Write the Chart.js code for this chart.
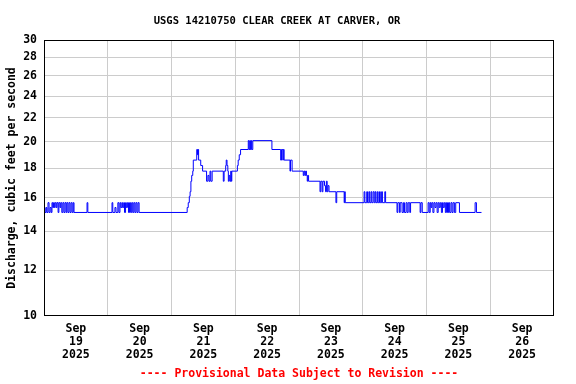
<!DOCTYPE html>
<html>
<head>
<meta charset="utf-8">
<script src="https://cdn.jsdelivr.net/npm/chart.js@4"></script>
<style>
html, body { margin: 0; padding: 0; background: #fff; }
</style>
</head>
<body>
<canvas id="hydro" width="576" height="384"></canvas>
<script>
// hours since Sep 19 2025 00:00, discharge in cfs (value holds until next point)
const flowSteps = [
	[0, 15.4], [0.4, 15.1], [0.8, 15.4], [1.1, 15.1], [1.5, 15.7], [1.9, 15.1], [2.3, 15.4], [2.7, 15.1],
	[3.0, 15.7], [3.3, 15.4], [3.6, 15.7], [3.9, 15.4], [4.2, 15.7], [4.6, 15.4], [4.9, 15.7], [5.3, 15.1],
	[5.6, 15.7], [6.0, 15.4], [6.3, 15.7], [6.7, 15.1], [7.1, 15.7], [7.5, 15.1], [7.9, 15.7], [8.3, 15.1],
	[8.6, 15.7], [9.0, 15.1], [9.4, 15.7], [9.8, 15.1], [10.2, 15.7], [10.6, 15.1], [11.0, 15.7], [11.3, 15.1],
	[16.2, 15.7], [16.5, 15.1],
	[25.6, 15.7], [25.9, 15.1], [26.7, 15.4], [27.1, 15.1], [27.8, 15.7], [28.2, 15.1], [28.6, 15.7], [28.9, 15.4],
	[29.3, 15.7], [29.6, 15.4], [30.0, 15.7], [30.3, 15.1], [30.7, 15.7], [31.0, 15.4], [31.4, 15.7], [31.8, 15.1],
	[32.2, 15.7], [32.6, 15.1], [33.0, 15.7], [33.4, 15.1], [33.8, 15.7], [34.2, 15.1], [34.6, 15.7], [35.0, 15.1],
	[35.4, 15.7], [35.8, 15.1],
	[53.9, 15.4], [54.3, 15.7], [54.7, 16.1], [55.0, 16.4], [55.3, 17.1], [55.6, 17.5], [56.0, 17.8], [56.2, 18.6],
	[57.5, 19.4], [57.8, 19.0], [58.0, 19.4], [58.2, 18.6], [59.0, 18.2], [59.7, 17.8], [61.2, 17.1], [61.7, 17.5],
	[62.1, 17.1], [62.5, 17.8], [62.8, 17.1], [63.3, 17.8],
	[67.5, 17.1], [67.8, 17.8], [68.4, 18.2], [68.6, 18.6], [68.9, 18.2], [69.2, 17.8], [69.4, 17.1], [69.7, 17.5],
	[70.0, 17.1], [70.3, 17.8], [70.5, 17.1], [70.7, 17.8],
	[72.8, 18.2], [73.1, 18.6], [73.5, 19.0], [74.0, 19.4], [76.9, 20.1], [77.2, 19.4], [77.5, 20.1], [77.7, 19.4],
	[78.0, 20.1], [78.2, 19.4], [78.6, 20.1], [85.8, 19.4], [89.1, 18.6], [89.4, 19.4], [89.9, 18.6], [90.1, 19.4],
	[90.4, 18.6], [92.6, 17.8], [92.8, 18.6], [93.4, 17.8],
	[97.6, 17.5], [97.9, 17.8], [98.2, 17.5], [98.5, 17.8], [98.8, 17.5], [99.1, 17.1], [99.3, 17.5], [99.6, 17.1],
	[103.9, 16.4], [104.2, 17.1], [104.7, 16.4], [105.0, 17.1], [105.6, 16.8], [106.0, 16.4], [106.3, 17.1], [106.6, 16.4],
	[106.9, 16.8], [107.3, 16.4], [109.9, 15.7], [110.2, 16.4], [113.0, 15.7], [113.2, 16.4], [113.4, 15.7],
	[120.5, 16.4], [120.8, 15.7], [121.5, 16.4], [121.8, 15.7], [122.3, 16.4], [122.6, 15.7], [123.1, 16.4], [123.4, 15.7],
	[123.9, 16.4], [124.3, 15.7], [124.7, 16.4], [125.0, 15.7], [125.5, 16.4], [125.8, 15.7], [126.3, 16.4], [126.6, 15.7],
	[127.1, 16.4], [127.4, 15.7], [128.3, 16.4], [128.6, 15.7],
	[132.9, 15.1], [133.2, 15.7], [133.8, 15.1], [134.1, 15.7], [134.8, 15.1], [135.3, 15.7], [135.7, 15.1], [136.3, 15.7],
	[136.7, 15.1], [137.1, 15.7], [137.7, 15.1], [138.0, 15.7], [141.6, 15.1], [141.9, 15.7], [142.4, 15.1],
	[144.6, 15.7], [145.0, 15.1], [145.4, 15.7], [145.7, 15.4], [146.0, 15.7], [146.4, 15.1], [146.8, 15.7], [147.2, 15.4],
	[147.6, 15.7], [148.0, 15.1], [148.4, 15.7], [148.8, 15.4], [149.2, 15.7], [149.6, 15.1], [150.0, 15.7], [150.3, 15.4],
	[150.7, 15.7], [151.1, 15.1], [151.5, 15.7], [151.9, 15.1], [152.3, 15.7], [152.7, 15.1], [153.2, 15.7], [153.6, 15.1],
	[154.0, 15.7], [154.5, 15.1], [155.0, 15.7], [156.4, 15.1], [162.3, 15.7], [162.8, 15.1], [164.7, 15.1]
];

const dayLabels = ["19", "20", "21", "22", "23", "24", "25", "26"];
const monthLabel = "Sep";
const yearLabel = "2025";
const yTicks = [10, 12, 14, 16, 18, 20, 22, 24, 26, 28, 30];
const xTicks = [0, 12, 24, 36, 48, 60, 72, 84, 96, 108, 120, 132, 144, 156, 168, 180, 192];

const titleText = "USGS 14210750 CLEAR CREEK AT CARVER, OR";
const yTitle = "Discharge, cubic feet per second";
const footText = "---- Provisional Data Subject to Revision ----";

const mono = "'DejaVu Sans Mono', 'Liberation Mono', monospace";
const gridGray = "#cccccc";

// black box round the plot
const frame = {
	id: "frame",
	afterDraw(chart) {
		const a = chart.chartArea;
		const c = chart.ctx;
		c.save();
		c.strokeStyle = "#000";
		c.lineWidth = 1;
		c.strokeRect(a.left + 0.5, a.top + 0.5, a.right - a.left - 1, a.bottom - a.top - 1);
		c.restore();
	}
};

const chart = new Chart(document.getElementById("hydro"), {
	type: "line",
	data: {
		datasets: [{
			data: flowSteps.map(p => ({ x: p[0], y: p[1] })),
			borderColor: "#0000ff",
			borderWidth: 1,
			pointRadius: 0,
			stepped: true,
			fill: false
		}]
	},
	options: {
		responsive: false,
		animation: false,
		layout: { padding: { left: 0, right: 22, top: 0, bottom: 0 } },
		plugins: {
			legend: { display: false },
			tooltip: { enabled: false },
			title: {
				display: true,
				text: titleText,
				color: "#000",
				font: { family: mono, size: 10.5, weight: "bold" },
				padding: { top: 15, bottom: 12.4 }
			},
			subtitle: {
				display: true,
				position: "bottom",
				fullSize: false,
				text: footText,
				color: "#ff0000",
				font: { family: mono, size: 11.5, weight: "bold" },
				padding: { top: 2, bottom: 3 }
			}
		},
		scales: {
			x: {
				type: "linear",
				min: 0,
				max: 192,
				afterBuildTicks: s => { s.ticks = xTicks.map(v => ({ value: v })); },
				afterFit: s => { s.height = 49.2; },
				border: { display: false },
				grid: {
					drawTicks: false,
					color: ctx => (ctx.tick && ctx.tick.value % 24 === 0 && ctx.tick.value > 0 && ctx.tick.value < 192) ? gridGray : "rgba(0,0,0,0)"
				},
				ticks: {
					autoSkip: false,
					maxRotation: 0,
					padding: 7,
					color: "#000",
					font: { family: mono, size: 11.5, weight: "bold", lineHeight: 1.13 },
					callback: v => v % 24 === 12 ? [monthLabel, dayLabels[(v - 12) / 24], yearLabel] : ""
				}
			},
			y: {
				type: "logarithmic",
				min: 10,
				max: 30,
				afterBuildTicks: s => { s.ticks = yTicks.map(v => ({ value: v })); },
				afterFit: s => { s.width = 44; },
				border: { display: false },
				grid: {
					drawTicks: false,
					color: ctx => (ctx.tick && ctx.tick.value > 10 && ctx.tick.value < 30) ? gridGray : "rgba(0,0,0,0)"
				},
				ticks: {
					padding: 7,
					color: "#000",
					font: { family: mono, size: 11.5, weight: "bold" },
					callback: v => String(v)
				},
				title: {
					display: true,
					text: yTitle,
					color: "#000",
					font: { family: mono, size: 11.5, weight: "bold" },
					padding: { top: 5, bottom: 0 }
				}
			}
		}
	},
	plugins: [frame]
});
</script>
</body>
</html>
